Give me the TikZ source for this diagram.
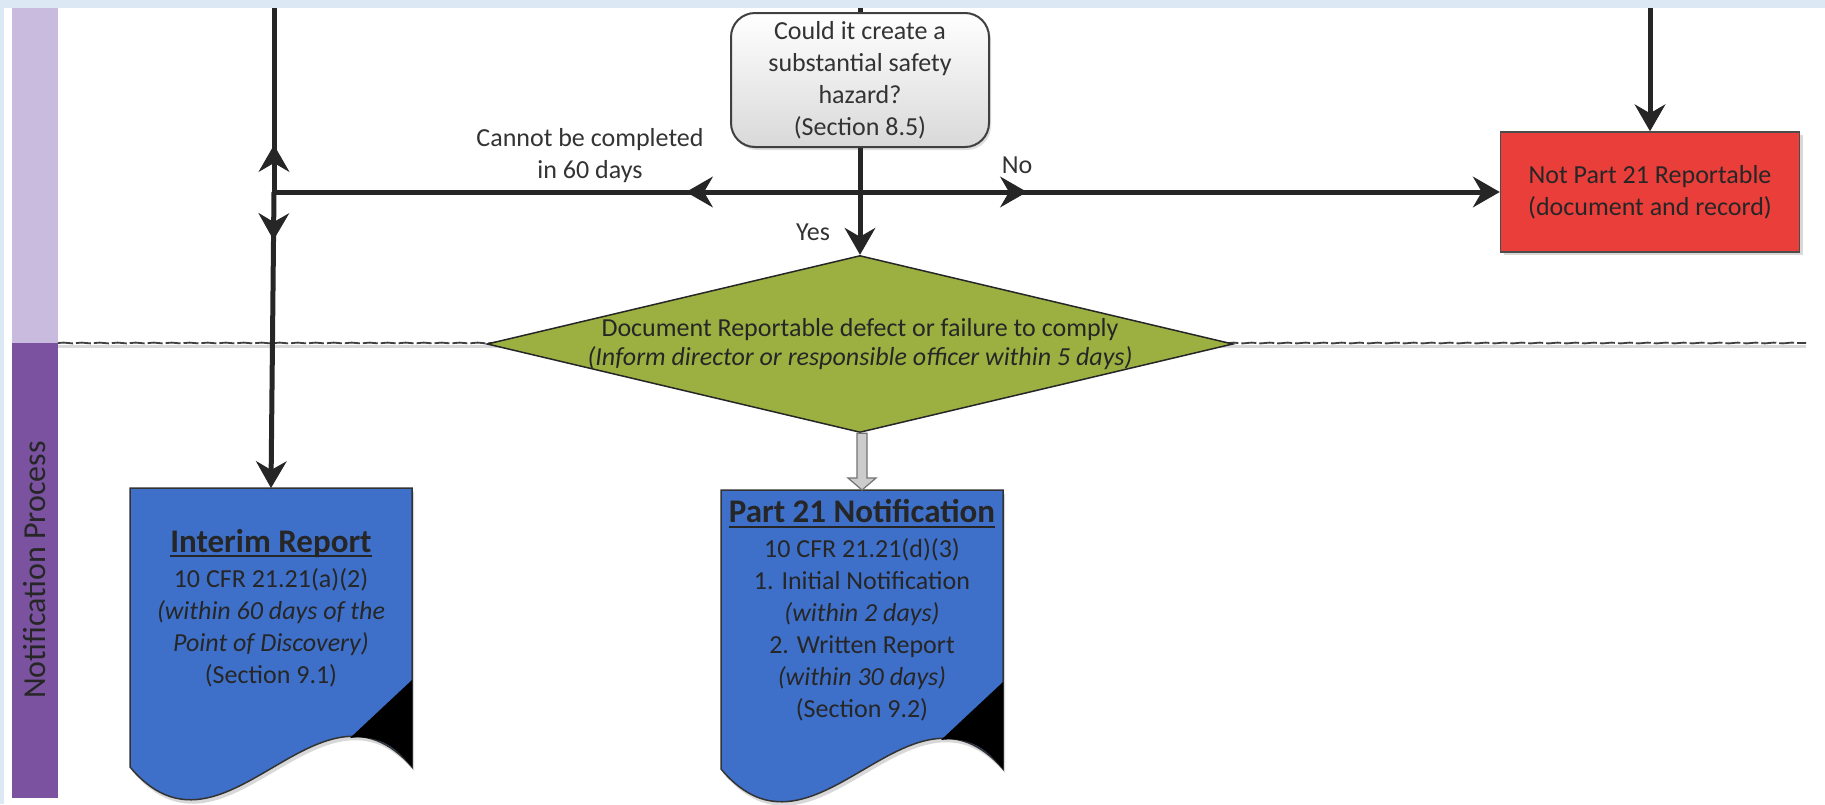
\documentclass[tikz,border=0pt]{standalone}
\usepackage{fontspec}
\setmainfont{Carlito}
\usetikzlibrary{arrows.meta,shapes.geometric,decorations.markings,decorations.pathmorphing,shadows,calc}

\definecolor{framebg}{RGB}{220,233,245}
\definecolor{laneA}{RGB}{201,187,222}
\definecolor{laneB}{RGB}{122,82,160}
\definecolor{docblue}{RGB}{62,112,202}
\definecolor{notred}{RGB}{234,62,58}
\definecolor{olive}{RGB}{156,176,66}

\newcommand{\boxtitle}[1]{{\fontsize{33}{36}\selectfont\bfseries\setbox0\hbox{#1}\rlap{\rule[-5pt]{\wd0}{2pt}}\box0}}

% document page with folded corner, #1 = left x, #2 = top y
\newcommand{\docpage}[2]{%
  \path[fill=docblue, draw=black!80, line width=1.5pt,
        drop shadow={shadow xshift=2pt, shadow yshift=-4pt, opacity=0.3}]
    (#1,#2) -- ++(0,279) .. controls +(94,112) and +(-94,-108) .. ++(282,0)
    -- (#1+282,#2) -- cycle;
  \fill[black] (#1+282,#2+192) -- (#1+220,#2+250)
    .. controls (#1+252,#2+246) and (#1+268,#2+262) .. (#1+282,#2+279) -- cycle;
}

\tikzset{
  flow/.style={line width=5pt, black!85},
  endtip/.style={-{Stealth[length=27pt,width=31pt,inset=9pt,line width=1pt]}},
  midarrow/.style={postaction={decorate}, decoration={markings,
      mark=at position #1 with {\arrow{Stealth[length=27pt,width=31pt,inset=9pt,line width=1pt]}}}},
  question/.style={draw=black!75, line width=2pt, rounded corners=24pt,
      top color=white, bottom color=black!15, minimum width=258pt, minimum height=134pt,
      align=center, font=\fontsize{26}{32}\selectfont, text=black!80,
      drop shadow={shadow xshift=2pt, shadow yshift=-3pt, opacity=0.25}},
  redbox/.style={draw=black!70, line width=1.5pt, fill=notred, minimum width=299pt,
      minimum height=120pt, align=center, font=\fontsize{26}{32}\selectfont, text=black!85,
      drop shadow={shadow xshift=3pt, shadow yshift=-3pt, opacity=0.3}},
  decision/.style={diamond, aspect=4.23, draw=black!85, line width=1.5pt, fill=olive,
      minimum width=746pt, minimum height=177pt, inner xsep=-20pt, inner ysep=0pt, align=center,
      font=\fontsize{26}{29}\selectfont, text=black!85},
  doctext/.style={anchor=north, minimum width=282pt, minimum height=240pt, inner sep=0pt,
      align=center, font=\fontsize{26}{32}\selectfont, text=black!85},
  label/.style={align=center, font=\fontsize{26}{32}\selectfont, text=black!80},
  blockarrow/.style={fill=black!20, draw=black!55, line width=1.2pt},
}

\begin{document}
\begin{tikzpicture}[x=1pt, y=-1pt]
  \useasboundingbox (0,0) rectangle (1825,804);

  % frame and lanes
  \fill[framebg] (0,0) rectangle (1825,804);
  \fill[white] (4,8) rectangle (1825,804);
  \fill[laneA] (12,8) rectangle (58,343);
  \fill[laneB] (12,343) rectangle (58,798);
  \node (lanetext) [rotate=90, font=\fontsize{32}{36}\selectfont, text=black!85] at (35,570) {Notification Process};

  % lane divider
  \draw[black!15, line width=3pt] (58,346) -- (1806,346);
  \draw[black!75, line width=1.8pt, dash pattern=on 15pt off 3pt,
        decorate, decoration={snake, amplitude=0.4pt, segment length=18pt}] (58,343) -- (1806,343);

  % shapes
  \node (hazard) [question] at (860,80) {Could it create a\\substantial safety\\hazard?\\(Section 8.5)};
  \node (notrep) [redbox] at (1650,192) {Not Part 21 Reportable\\(document and record)};
  \node (document) [decision] at (860,344) {Document Reportable defect or failure to comply\\\textit{(Inform director or responsible officer within 5 days)}};

  \docpage{130}{488}
  \node (interim) [doctext] at (271,488) {\boxtitle{Interim Report}\\[3pt]
    10 CFR 21.21(a)(2)\\ \textit{(within 60 days of the}\\ \textit{Point of Discovery)}\\ (Section 9.1)};

  \docpage{721}{490}
  \node (notif) [doctext] at (862,490) {\boxtitle{Part 21 Notification}\\[3pt]
    10 CFR 21.21(d)(3)\\ 1. Initial Notification\\ \textit{(within 2 days)}\\
    2. Written Report\\ \textit{(within 30 days)}\\ (Section 9.2)};

  % connectors
  \coordinate (j) at (860,192);
  \coordinate (j1) at (274,192);
  \coordinate (ltop) at (274,8);
  \coordinate (htop) at (860,8);
  \coordinate (ntop) at (1650,8);

  \draw[flow] (htop) -- (hazard.north);
  \draw[flow, endtip] (hazard.south) -- (document.north);
  \draw[flow, midarrow=174pt] (j) -- (j1);
  \draw[flow, endtip, midarrow=167pt] (j) -- (notrep.west);
  \draw[flow, midarrow=47pt] (j1) -- (ltop);
  \draw[flow, endtip, midarrow=48pt] (j1) -- (interim.north);
  \draw[flow, endtip] (ntop) -- (notrep.north);

  \draw[blockarrow] ($(document.south -| notif.north)+(-5,0)$) -- ($(notif.north)+(-5,-12)$)
    -- ++(-9,0) -- (notif.north) -- ($(notif.north)+(14,-12)$) -- ++(-9,0)
    -- ($(document.south -| notif.north)+(5,0)$) -- cycle;

  % labels
  \node (cantlab) [label] at (590,156) {Cannot be completed\\in 60 days};
  \node (nolab) [label] at (1017,165) {No};
  \node (yeslab) [label] at (813,232) {Yes};
\end{tikzpicture}
\end{document}
